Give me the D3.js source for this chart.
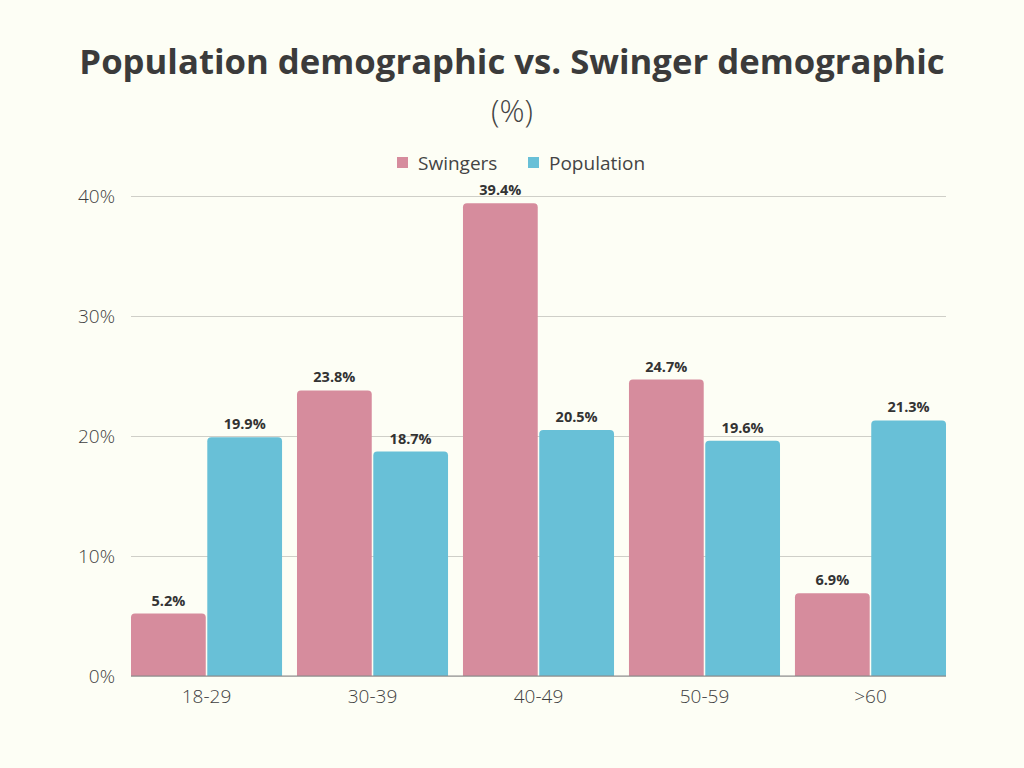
<!DOCTYPE html>
<html><head><meta charset="utf-8">
<script src="https://cdn.jsdelivr.net/npm/d3@7"></script>
<style>body{margin:0;background:#fdfef5;}svg{display:block}</style>
</head><body>
<script>
const categories = ["18-29","30-39","40-49","50-59",">60"];
const seriesNames = ["Swingers","Population"];
const swingers = [5.2, 23.8, 39.4, 24.7, 6.9];
const population = [19.9, 18.7, 20.5, 19.6, 21.3];
const yTicks = [0,10,20,30,40];
const colors = ["#d68c9d","#68c0d7"];

const W=1024,H=768;
const svg=d3.select("body").append("svg").attr("width",W).attr("height",H);
svg.append("rect").attr("width",W).attr("height",H).attr("fill","#fdfef5");
const m={l:131,r:78,t:196,b:92};
const x=d3.scaleBand().domain(categories).range([m.l,W-m.r]).paddingInner(0.09).paddingOuter(0);
const xs=d3.scaleBand().domain(seriesNames).range([0,x.bandwidth()]).paddingInner(0.02);
const y=d3.scaleLinear().domain([0,40]).range([H-m.b,m.t]);

svg.append("text").attr("x",512).attr("y",74).attr("text-anchor","middle")
 .attr("font-family","Open Sans").attr("font-weight",700).attr("font-size",34.7).attr("fill","#3b3b3b")
 .text("Population demographic vs. Swinger demographic");
svg.append("text").attr("x",512).attr("y",122).attr("text-anchor","middle")
 .attr("font-family","Open Sans").attr("font-weight",300).attr("font-size",31).attr("fill","#444")
 .text("(%)");

// legend
const lg=svg.append("g").attr("font-family","Open Sans").attr("font-size",19).attr("fill","#444");
const lx=[397,528];
seriesNames.forEach((s,i)=>{
  lg.append("rect").attr("x",lx[i]).attr("y",157).attr("width",11).attr("height",11).attr("fill",colors[i]);
  lg.append("text").attr("x",lx[i]+21).attr("y",170).text(s).attr("fill","#444");
});

// grid
const yAxis=d3.axisLeft(y).tickValues(yTicks).tickFormat(d=>d+"%").tickSize(-(W-m.r-m.l)).tickPadding(16);
const ga=svg.append("g").attr("transform",`translate(${m.l},0)`).call(yAxis);
ga.select(".domain").remove();
ga.selectAll("line").attr("stroke","#cfcfc8").attr("stroke-width",1.2);
ga.selectAll("text").attr("font-family","Open Sans").attr("font-weight",300).attr("font-size",19).attr("fill","#3f3f3f");

const data=categories.map((c,i)=>({c,vals:[swingers[i],population[i]]}));
function topRounded(x0,y0,w,h,r){
  r=Math.min(r,h,w/2);
  return `M${x0},${y0+h}V${y0+r}Q${x0},${y0} ${x0+r},${y0}H${x0+w-r}Q${x0+w},${y0} ${x0+w},${y0+r}V${y0+h}Z`;
}
const g=svg.selectAll(".grp").data(data).join("g").attr("transform",d=>`translate(${x(d.c)},0)`);
g.selectAll("path").data(d=>d.vals.map((v,i)=>({v,s:seriesNames[i],i}))).join("path")
 .attr("d",d=>topRounded(xs(d.s),y(d.v),xs.bandwidth(),y(0)-y(d.v),4))
 .attr("fill",d=>colors[d.i]);
g.selectAll("text").data(d=>d.vals.map((v,i)=>({v,s:seriesNames[i]}))).join("text")
 .attr("x",d=>xs(d.s)+xs.bandwidth()/2).attr("y",d=>y(d.v)-8).attr("text-anchor","middle")
 .attr("font-family","Open Sans").attr("font-weight",700).attr("font-size",14.5).attr("fill","#333")
 .text(d=>d.v.toFixed(1)+"%");

// baseline + x axis
svg.append("line").attr("x1",m.l).attr("x2",W-m.r).attr("y1",y(0)).attr("y2",y(0)).attr("stroke","#888").attr("stroke-width",1);
const xa=svg.append("g").attr("transform",`translate(0,${y(0)})`).call(d3.axisBottom(x).tickSize(0).tickPadding(14));
xa.select(".domain").remove();
xa.selectAll("text").attr("font-family","Open Sans").attr("font-weight",300).attr("font-size",19).attr("fill","#3f3f3f");
</script>
</body></html>
